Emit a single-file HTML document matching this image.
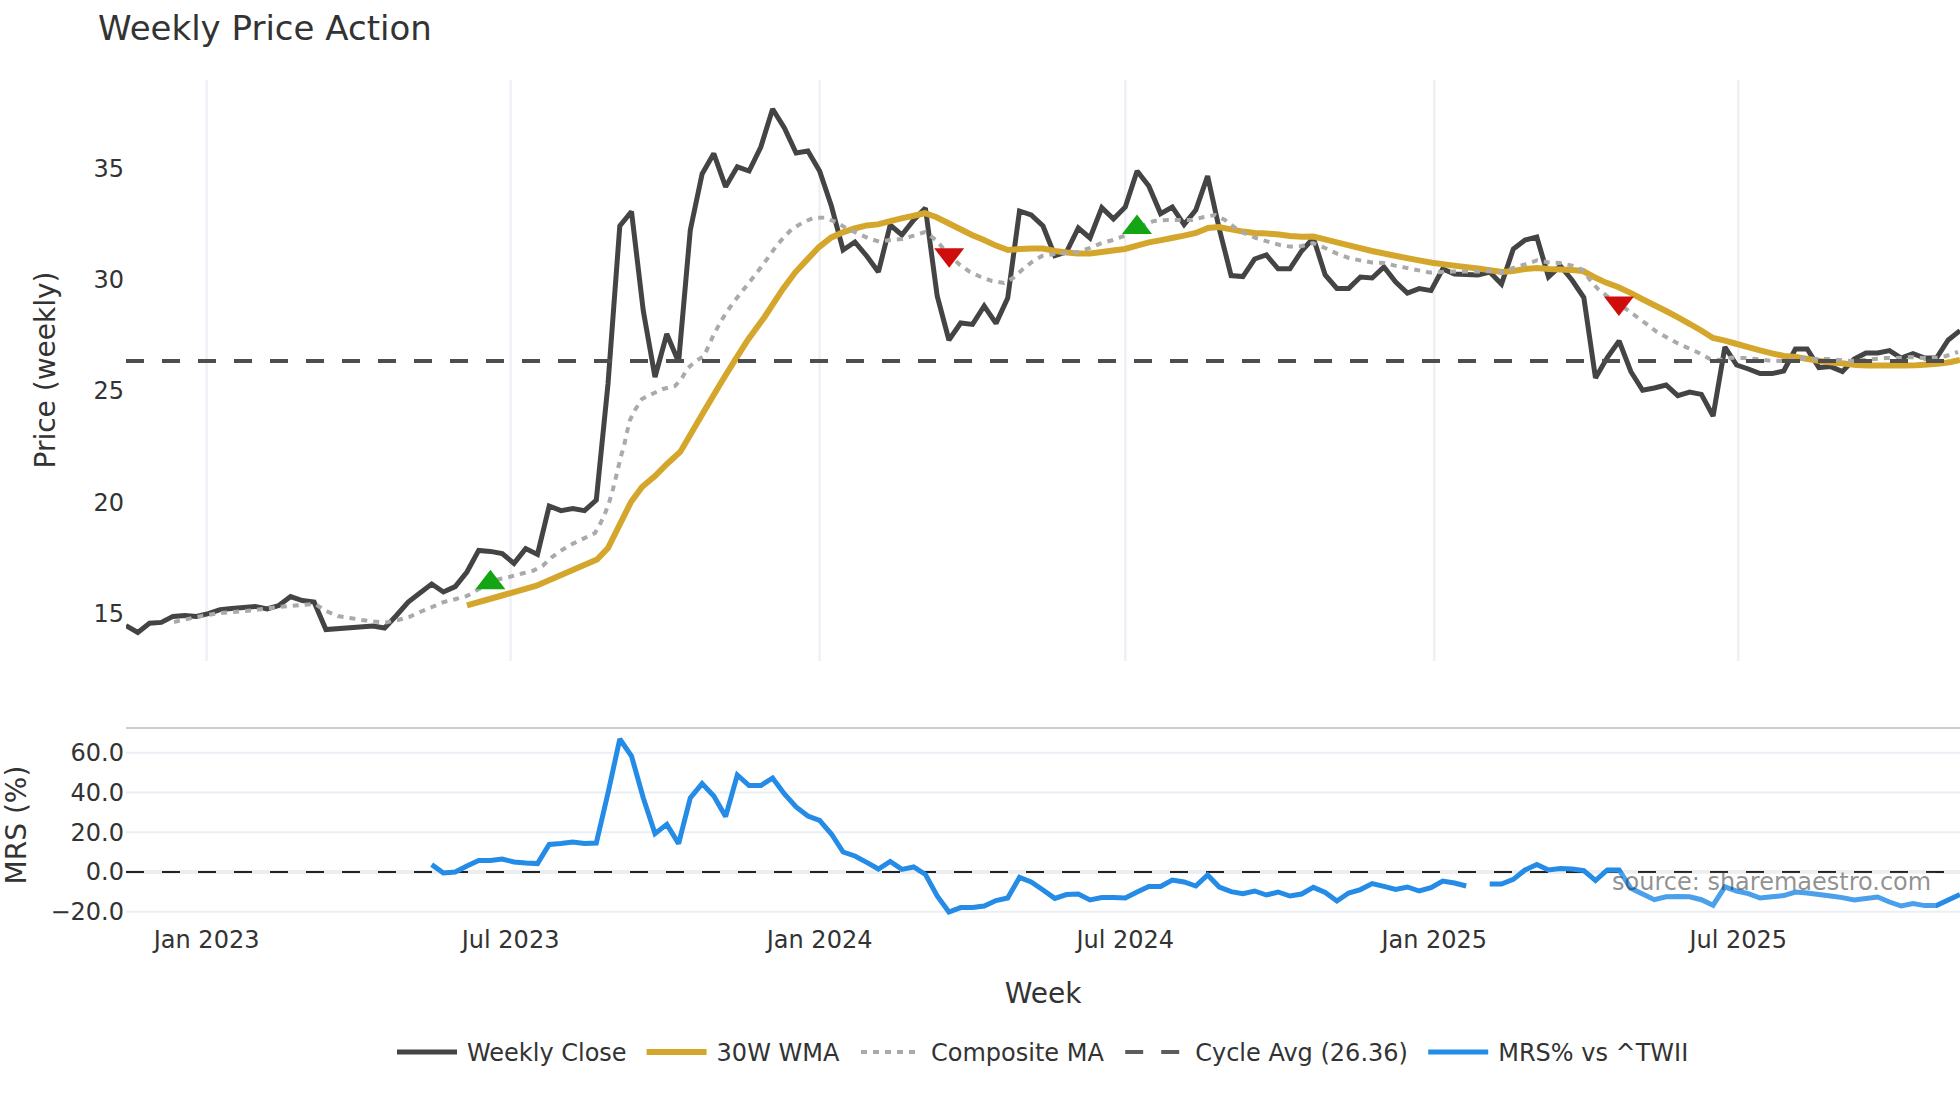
<!DOCTYPE html>
<html lang="en"><head><meta charset="utf-8"><title>Weekly Price Action</title>
<style>html,body{margin:0;padding:0;background:#fff}body{width:1960px;height:1102px;overflow:hidden}svg{display:block}text{font-family:'DejaVu Sans','Liberation Sans',sans-serif;fill:#333}.ln{fill:none;stroke-miterlimit:2}</style></head><body>
<svg width="1960" height="1102" viewBox="0 0 1960 1102">
<rect width="1960" height="1102" fill="#fff"/>
<text x="98" y="40" font-size="34">Weekly Price Action</text>
<g stroke="#eff0f6" stroke-width="2.4">
<line x1="206.6" y1="80" x2="206.6" y2="661"/>
<line x1="510.6" y1="80" x2="510.6" y2="661"/>
<line x1="819.6" y1="80" x2="819.6" y2="661"/>
<line x1="1125.3" y1="80" x2="1125.3" y2="661"/>
<line x1="1434.3" y1="80" x2="1434.3" y2="661"/>
<line x1="1738.3" y1="80" x2="1738.3" y2="661"/>
</g>
<text x="124" y="176.7" font-size="24" text-anchor="end">35</text>
<text x="124" y="288.0" font-size="24" text-anchor="end">30</text>
<text x="124" y="399.3" font-size="24" text-anchor="end">25</text>
<text x="124" y="510.7" font-size="24" text-anchor="end">20</text>
<text x="124" y="621.9" font-size="24" text-anchor="end">15</text>
<text transform="translate(55,370) rotate(-90)" font-size="28" text-anchor="middle">Price (weekly)</text>
<clipPath id="c1"><rect x="126" y="80" width="1834" height="580"/></clipPath>
<g clip-path="url(#c1)">
<path class="ln" d="M126.0,625.6L137.8,632.4L149.5,623.2L161.3,622.4L173.0,616.4L184.8,615.4L196.5,616.4L208.3,613.6L220.1,609.6L231.8,608.4L243.6,607.4L255.3,606.4L267.1,609.0L278.8,605.6L290.6,596.6L302.3,600.6L314.1,602.0L325.9,629.6L372.9,626.0L384.6,628.0L396.4,615.5L408.2,602.0L419.9,593.0L431.7,584.0L443.4,592.0L455.2,586.6L466.9,572.0L478.7,550.4L490.4,551.4L502.2,553.6L514.0,563.4L525.7,548.6L537.5,554.4L549.2,506.0L561.0,510.6L572.7,508.6L584.5,510.6L596.3,500.0L608.0,384.0L619.8,226.0L631.5,211.5L643.3,311.0L655.0,377.0L666.8,334.0L678.6,362.0L690.3,230.0L702.1,174.0L713.8,153.6L725.6,186.8L737.3,166.8L749.1,171.0L760.8,147.0L772.6,109.0L784.4,128.0L796.1,153.0L807.9,151.0L819.6,171.0L831.4,206.0L843.1,250.0L854.9,242.0L866.7,256.0L878.4,272.0L890.2,225.0L901.9,235.0L913.7,220.0L925.4,208.0L937.2,296.0L948.9,340.0L960.7,323.0L972.5,324.4L984.2,306.0L996.0,323.4L1007.7,298.0L1019.5,211.0L1031.2,215.0L1043.0,226.0L1054.8,255.6L1066.5,252.0L1078.3,228.0L1090.0,238.0L1101.8,207.6L1113.5,219.0L1125.3,207.0L1137.1,171.0L1148.8,186.0L1160.6,213.6L1172.3,207.0L1184.1,224.6L1195.8,210.0L1207.6,176.0L1219.3,229.0L1231.1,275.6L1242.9,276.6L1254.6,259.0L1266.4,255.0L1278.1,268.8L1289.9,268.8L1301.6,251.0L1313.4,238.0L1325.2,275.0L1336.9,288.4L1348.7,288.4L1360.4,277.0L1372.2,278.0L1383.9,267.0L1395.7,282.0L1407.4,293.0L1419.2,288.6L1431.0,290.6L1442.7,269.0L1454.5,274.0L1466.2,274.6L1478.0,275.0L1489.7,272.0L1501.5,284.0L1513.3,249.0L1525.0,240.0L1536.8,237.0L1548.5,277.0L1560.3,266.0L1572.0,280.0L1583.8,297.5L1595.5,378.0L1607.3,357.5L1619.1,341.0L1630.8,371.5L1642.6,390.3L1654.3,388.0L1666.1,385.0L1677.8,395.6L1689.6,392.0L1701.4,394.4L1713.1,416.0L1724.9,347.0L1736.6,365.0L1748.4,369.0L1760.1,373.6L1771.9,373.6L1783.7,371.0L1795.4,349.0L1807.2,349.0L1818.9,367.6L1830.7,366.6L1842.4,371.6L1854.2,359.0L1865.9,353.0L1877.7,353.0L1889.5,350.6L1901.2,358.0L1913.0,353.6L1924.7,358.0L1936.5,358.0L1948.2,340.0L1960.0,330.6" stroke="#444" stroke-width="5"/>
<path class="ln" d="M467.0,605.4L502.0,595.5L536.5,585.7L560.0,575.5L597.0,559.6L608.0,548.0L631.0,502.0L642.0,487.0L655.0,476.0L667.0,464.0L680.4,451.7L703.9,411.4L722.2,380.8L734.5,360.9L747.8,340.0L764.7,316.7L783.1,288.7L795.3,272.3L807.6,259.1L818.8,247.3L831.0,237.7L842.2,232.6L854.5,228.5L866.7,225.4L878.0,224.4L889.2,221.3L901.4,218.3L913.7,215.7L924.9,213.2L936.0,217.0L948.0,223.0L960.0,229.0L972.0,235.0L984.0,240.0L996.0,245.6L1008.0,250.0L1020.0,249.0L1032.0,248.4L1043.0,248.6L1055.0,251.0L1067.0,252.4L1078.0,253.4L1090.0,253.4L1102.0,252.0L1113.0,250.6L1125.0,249.0L1137.0,245.6L1149.0,242.4L1160.0,240.4L1172.0,238.0L1184.0,235.6L1196.0,233.0L1208.0,228.0L1219.0,227.0L1231.0,229.4L1243.0,231.6L1255.0,233.0L1267.0,233.6L1279.0,234.6L1290.0,236.0L1302.0,236.8L1313.4,236.6L1325.0,239.4L1349.0,245.4L1372.0,251.0L1395.0,255.8L1419.0,260.4L1432.0,262.7L1454.0,265.6L1478.0,268.6L1502.0,272.0L1513.0,271.0L1525.0,269.0L1537.0,268.0L1549.0,269.0L1560.0,269.4L1572.0,270.0L1583.0,271.0L1594.0,277.0L1606.0,282.6L1618.0,287.0L1630.0,292.6L1642.0,299.0L1654.0,305.0L1666.0,311.0L1678.0,317.4L1690.0,324.0L1702.0,331.0L1713.0,338.0L1725.0,340.6L1737.0,344.0L1749.0,347.4L1761.0,350.6L1773.0,353.6L1784.0,356.0L1796.0,357.0L1808.0,359.0L1820.0,361.0L1832.0,362.4L1844.0,363.6L1856.0,365.0L1868.0,365.4L1880.0,365.4L1892.0,365.4L1904.0,365.4L1916.0,365.2L1928.0,364.6L1940.0,363.6L1951.0,362.0L1960.0,360.0" stroke="#d4a72c" stroke-width="6"/>
<path class="ln" d="M174.0,622.0L185.0,619.5L196.6,617.0L208.0,615.0L220.0,613.0L232.0,612.0L244.0,611.0L255.6,610.0L267.0,608.5L278.6,607.0L290.0,606.0L302.0,605.0L315.0,604.0L326.0,611.0L338.0,616.0L350.0,618.0L362.0,620.0L374.0,621.6L386.0,622.4L398.0,620.0L409.0,617.0L420.0,612.0L432.0,607.0L444.0,602.0L456.0,599.0L467.0,596.0L478.0,589.6L490.0,583.0L498.0,579.4L510.0,576.8L522.0,573.5L533.0,570.8L543.0,565.5L552.0,557.0L562.0,550.0L573.0,543.6L584.0,538.4L595.0,533.0L600.6,523.0L605.6,512.0L609.6,501.0L613.0,489.0L616.0,477.0L618.6,466.0L621.6,454.0L624.0,446.0L627.0,432.0L630.0,420.0L635.0,410.0L642.0,399.0L652.0,394.0L663.0,389.0L675.0,386.0L682.0,378.0L687.0,369.0L695.0,361.6L704.0,356.0L709.0,345.0L714.0,334.0L720.0,323.0L726.0,313.0L733.0,303.0L740.0,294.0L748.0,284.0L755.0,275.0L762.0,266.0L770.0,255.0L777.0,245.0L785.0,236.0L792.0,229.0L802.0,223.0L813.0,218.0L825.0,217.6L836.0,222.0L846.0,228.0L857.0,233.0L868.0,238.0L879.0,241.6L890.0,240.0L902.0,239.0L914.0,235.6L925.0,232.0L936.0,240.0L948.0,254.0L960.0,265.0L970.0,272.0L981.0,277.0L992.0,281.0L1004.0,283.0L1013.0,278.0L1023.0,269.0L1032.0,262.0L1042.0,256.0L1054.0,254.0L1066.0,253.0L1078.0,252.0L1090.0,248.0L1102.0,243.0L1113.0,240.0L1125.0,235.6L1137.0,228.0L1154.0,221.0L1168.0,220.0L1180.0,220.0L1192.0,220.0L1204.0,217.0L1215.0,215.0L1225.0,220.0L1234.0,227.0L1244.0,233.0L1256.0,238.0L1268.0,241.6L1280.0,245.0L1290.0,246.6L1302.0,246.0L1313.0,243.0L1325.0,248.0L1337.0,253.6L1349.0,258.0L1360.0,260.4L1372.0,262.4L1384.0,263.0L1395.0,265.6L1407.0,268.0L1419.0,270.4L1430.0,272.6L1442.0,272.0L1454.0,271.6L1466.0,271.6L1478.0,271.6L1490.0,271.0L1502.0,272.4L1513.0,268.0L1525.0,264.4L1537.0,260.4L1549.0,262.4L1560.0,263.0L1572.0,265.6L1583.0,270.0L1590.0,280.0L1598.0,289.0L1605.8,295.0L1617.5,303.5L1626.0,309.0L1637.0,317.0L1648.0,325.0L1657.0,332.0L1666.0,337.0L1677.0,343.0L1688.0,348.0L1699.0,353.0L1710.0,359.0L1720.0,360.0L1732.0,357.6L1744.0,358.0L1756.0,359.0L1768.0,360.4L1780.0,361.0L1792.0,360.0L1804.0,358.0L1815.0,359.0L1827.0,359.0L1839.0,360.0L1851.0,361.0L1863.0,360.0L1875.0,359.0L1887.0,358.0L1899.0,358.0L1911.0,357.0L1923.0,358.0L1935.0,358.0L1946.0,356.0L1958.0,352.0" stroke="#aaa" stroke-width="4" stroke-dasharray="6,6"/>
<path class="ln" d="M126,361H1960" stroke="#4e4e4e" stroke-width="4" stroke-dasharray="18,18"/>
<path d="M475.39,589.20H505.41L490.40,569.70Z" fill="#13a513"/>
<path d="M1121.99,234.00H1152.01L1137.00,214.50Z" fill="#13a513"/>
<path d="M934.19,248.30H964.21L949.20,267.80Z" fill="#d00d0d"/>
<path d="M1603.89,296.40H1633.91L1618.90,315.90Z" fill="#d00d0d"/>
</g>
<path d="M126,728H1960" stroke="#cdcdcd" stroke-width="2" fill="none"/>
<g stroke="#eceef6" stroke-width="2">
<line x1="126" y1="752.8" x2="1960" y2="752.8"/>
<line x1="126" y1="792.5" x2="1960" y2="792.5"/>
<line x1="126" y1="832.25" x2="1960" y2="832.25"/>
<line x1="126" y1="911.75" x2="1960" y2="911.75"/>
</g>
<line x1="126" y1="872" x2="1960" y2="872" stroke="#ecedee" stroke-width="3.8"/>
<path class="ln" d="M126,872H1960" stroke="#222" stroke-width="2" stroke-dasharray="18,18"/>
<text x="124" y="760.5" font-size="24" text-anchor="end">60.0</text>
<text x="124" y="801.2" font-size="24" text-anchor="end">40.0</text>
<text x="124" y="840.9" font-size="24" text-anchor="end">20.0</text>
<text x="124" y="879.7" font-size="24" text-anchor="end">0.0</text>
<text x="124" y="920.0" font-size="24" text-anchor="end">−20.0</text>
<text transform="translate(26.2,825) rotate(-90)" font-size="28" text-anchor="middle">MRS (%)</text>
<clipPath id="c2"><rect x="126" y="728" width="1834" height="194"/></clipPath>
<g clip-path="url(#c2)">
<path class="ln" d="M431.7,864.6L443.4,873.0L455.2,872.0L466.9,866.0L478.7,860.4L490.4,860.6L502.2,859.0L514.0,862.0L525.7,863.0L537.5,863.6L549.2,844.4L561.0,843.4L572.7,842.0L584.5,843.4L596.3,843.0L608.0,793.0L619.8,739.0L631.5,756.0L643.3,798.0L655.0,833.6L666.8,824.4L678.6,843.6L690.3,798.0L702.1,783.6L713.8,796.0L725.6,816.6L737.3,775.0L749.1,785.6L760.8,785.6L772.6,778.0L784.4,794.0L796.1,807.0L807.9,816.0L819.6,820.4L831.4,834.0L843.1,852.0L854.9,856.0L866.7,862.4L878.4,869.0L890.2,861.4L901.9,869.4L913.7,867.0L925.4,874.4L937.2,896.0L948.9,912.0L960.7,907.6L972.5,907.6L984.2,906.0L996.0,900.6L1007.7,898.0L1019.5,877.4L1031.2,882.0L1043.0,890.0L1054.8,898.4L1066.5,894.6L1078.3,894.0L1090.0,900.0L1101.8,897.6L1113.5,897.6L1125.3,898.0L1137.1,892.0L1148.8,886.4L1160.6,886.4L1172.3,880.0L1184.1,882.0L1195.8,886.0L1207.6,875.0L1219.3,887.0L1231.1,891.6L1242.9,893.6L1254.6,891.0L1266.4,895.0L1278.1,892.0L1289.9,896.0L1301.6,894.0L1313.4,887.4L1325.2,892.4L1336.9,901.0L1348.7,893.0L1360.4,889.6L1372.2,883.6L1383.9,886.4L1395.7,889.4L1407.4,887.0L1419.2,891.0L1431.0,887.6L1442.7,881.0L1454.5,883.0L1466.2,886.0" stroke="#248be7" stroke-width="5"/>
<path class="ln" d="M1489.7,884.0L1501.5,884.0L1513.3,879.4L1525.0,870.0L1536.8,864.4L1548.5,870.0L1560.3,868.6L1572.0,869.0L1583.8,870.6L1595.5,880.5L1607.3,870.0L1619.1,870.0L1630.8,888.3L1642.6,894.0L1654.3,899.7L1666.1,896.8L1677.8,896.5L1689.6,896.8L1701.4,899.7L1713.1,905.2L1724.9,886.8L1736.6,891.0L1748.4,893.6L1760.1,898.0L1771.9,896.8L1783.7,895.6L1795.4,892.0L1807.2,893.0L1818.9,894.4L1830.7,896.0L1842.4,897.6L1854.2,900.0L1865.9,898.4L1877.7,897.0L1889.5,902.0L1901.2,906.0L1913.0,903.6L1924.7,905.6L1936.5,905.6L1948.2,900.0L1960.0,894.4" stroke="#248be7" stroke-width="5"/>
</g>
<text x="206.6" y="948" font-size="24" text-anchor="middle">Jan 2023</text>
<text x="510.6" y="948" font-size="24" text-anchor="middle">Jul 2023</text>
<text x="819.6" y="948" font-size="24" text-anchor="middle">Jan 2024</text>
<text x="1125.3" y="948" font-size="24" text-anchor="middle">Jul 2024</text>
<text x="1434.3" y="948" font-size="24" text-anchor="middle">Jan 2025</text>
<text x="1738.3" y="948" font-size="24" text-anchor="middle">Jul 2025</text>
<text x="1043" y="1003.2" font-size="28" text-anchor="middle">Week</text>
<rect x="1608" y="872.6" width="328" height="37" fill="#fff" fill-opacity="0.18"/>
<text x="1931.2" y="889.5" font-size="24" text-anchor="end" style="fill:#333;fill-opacity:0.55">source: sharemaestro.com</text>
<path class="ln" d="M397,1051.9H457" stroke="#444" stroke-width="5"/>
<text x="467" y="1060.6000000000001" font-size="24">Weekly Close</text>
<path class="ln" d="M646.6,1051.9H706.6" stroke="#d4a72c" stroke-width="6"/>
<text x="716.6" y="1060.6000000000001" font-size="24">30W WMA</text>
<path class="ln" d="M861,1051.9H921" stroke="#aaa" stroke-width="4" stroke-dasharray="6,6"/>
<text x="931" y="1060.6000000000001" font-size="24">Composite MA</text>
<path class="ln" d="M1125.2,1051.9H1185.2" stroke="#5c5c5c" stroke-width="4" stroke-dasharray="18,18"/>
<text x="1195.2" y="1060.6000000000001" font-size="24">Cycle Avg (26.36)</text>
<path class="ln" d="M1428.2,1051.9H1488.2" stroke="#248be7" stroke-width="5"/>
<text x="1498.2" y="1060.6000000000001" font-size="24">MRS% vs ^TWII</text>
</svg></body></html>
